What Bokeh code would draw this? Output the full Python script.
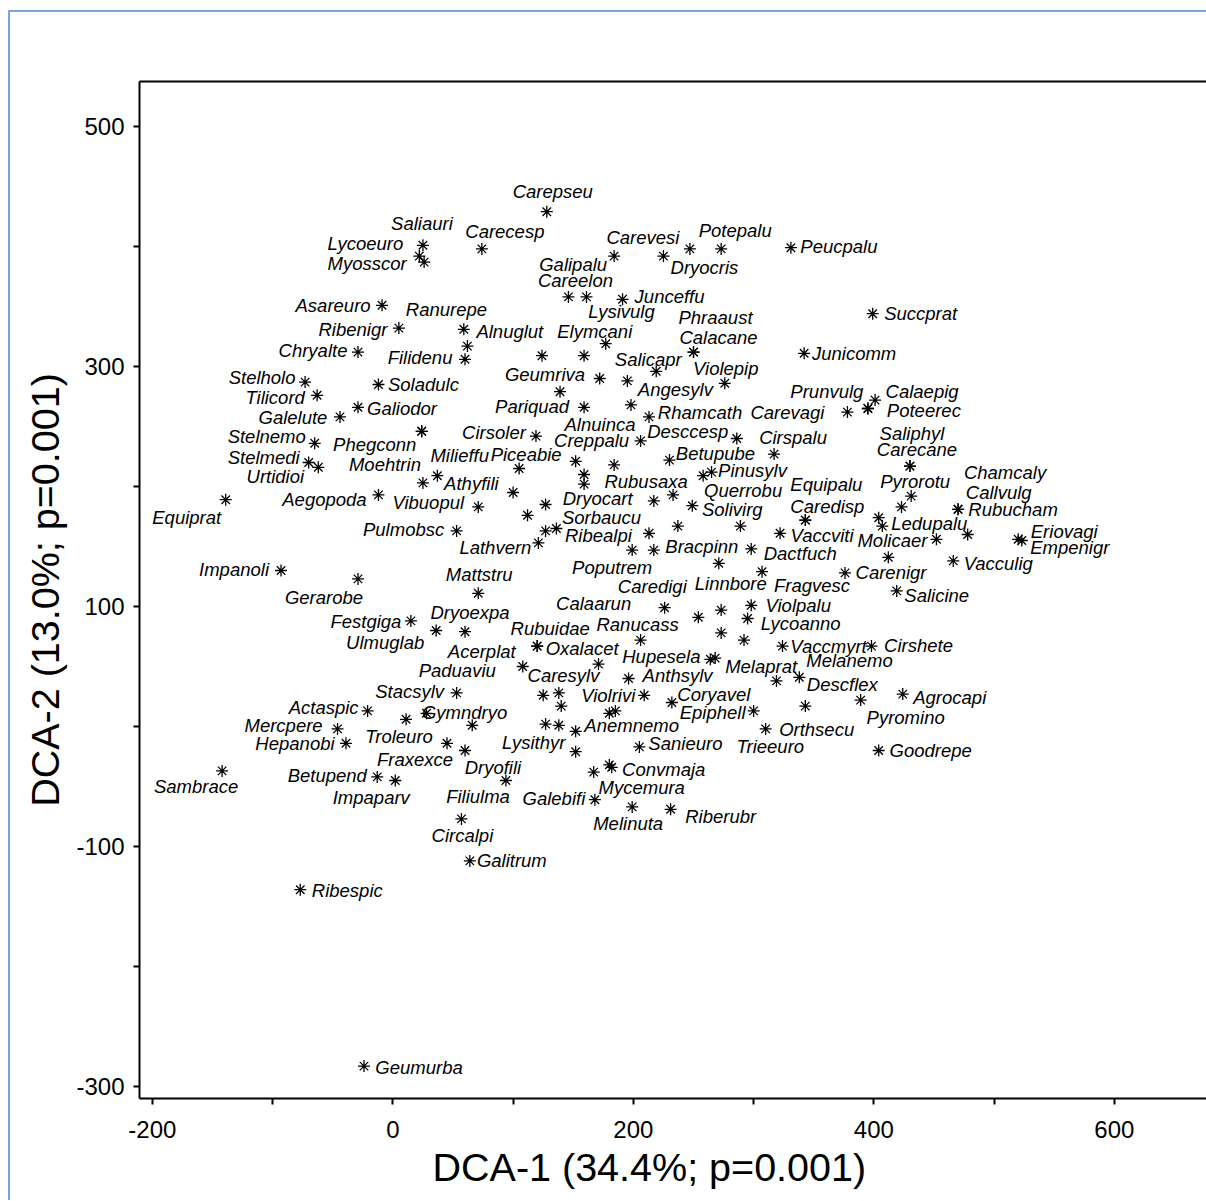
from bokeh.plotting import figure
from bokeh.models import ColumnDataSource, FixedTicker, LinearAxis, Range1d, InlineStyleSheet, Title
from bokeh.embed import file_html
from bokeh.resources import INLINE
from bokeh.core.properties import value

# ---------------- data (species scores) ----------------
species = [
    "Carepseu", "Carecesp", "Saliauri", "Lycoeuro", "Myosscor", "Galipalu", "Carevesi", "Dryocris",
    "Potepalu", "Peucpalu", "Careelon", "Lysivulg", "Junceffu", "Succprat", "Asareuro", "Ranurepe",
    "Alnuglut", "Ribenigr", "Filidenu", "Chryalte", "Elymcani", "Phraaust", "Calacane", "Geumriva",
    "", "Salicapr", "Violepip", "Junicomm", "Stelholo", "Tilicord", "Soladulc", "Galiodor",
    "Galelute", "Stelnemo", "Phegconn", "Milieffu", "Stelmedi", "Urtidioi", "Moehtrin", "Athyfili",
    "Aegopoda", "Vibuopul", "Equiprat", "Pulmobsc", "Impanoli", "Gerarobe", "Cirsoler", "Pariquad",
    "Alnuinca", "Angesylv", "", "", "Rhamcath", "Carevagi", "Prunvulg", "Calaepig",
    "Poteerec", "Creppalu", "Desccesp", "Cirspalu", "Betupube", "Piceabie", "", "",
    "", "", "", "Pinusylv", "Querrobu", "Rubusaxa", "", "Solivirg",
    "Dryocart", "Sorbaucu", "", "Ribealpi", "Lathvern", "", "", "",
    "Poputrem", "Bracpinn", "Linnbore", "Dactfuch", "Vaccviti", "Caredisp", "Equipalu", "Fragvesc",
    "Carenigr", "Saliphyl", "Carecane", "Pyrorotu", "", "Chamcaly", "Callvulg", "Rubucham",
    "", "Ledupalu", "Molicaer", "Eriovagi", "Empenigr", "Vacculig", "", "Salicine",
    "Mattstru", "Festgiga", "Dryoexpa", "Ulmuglab", "Acerplat", "Paduaviu", "Stacsylv", "Actaspic",
    "Troleuro", "Gymndryo", "Mercpere", "Hepanobi", "Fraxexce", "Dryofili", "Filiulma", "Sambrace",
    "Betupend", "Impaparv", "Circalpi", "Galitrum", "Ribespic", "Geumurba", "Caredigi", "Calaarun",
    "", "Violpalu", "Lycoanno", "", "", "Vaccmyrt", "Ranucass", "Rubuidae",
    "Oxalacet", "Cirshete", "Hupesela", "Melaprat", "Caresylv", "Anthsylv", "Melanemo", "Descflex",
    "", "", "", "Violrivi", "Coryavel", "Epiphell", "", "",
    "Trieeuro", "Pyromino", "Agrocapi", "", "", "Anemnemo", "Orthsecu", "Goodrepe",
    "Lysithyr", "Sanieuro", "", "Convmaja", "Mycemura", "Galebifi", "Melinuta", "Riberubr",
]
dca1 = [
    128, 74, 25, 22, 26, 184, 247, 225,
    273, 331, 146, 161, 191, 399, -9, 62,
    59, 5, 60, -29, 177, 250, 250, 124,
    159, 219, 276, 342, -73, -63, -12, -29,
    -44, -65, 24, 24, -70, -62, 25, 37,
    -12, 71, -139, 53, -93, -29, 119, 159,
    198, 195, 172, 139, 213, 378, 395, 401,
    395, 206, 286, 317, 230, 105, 152, 184,
    159, 159, 100, 265, 258, 233, 217, 249,
    127, 112, 127, 136, 121, 213, 237, 289,
    199, 217, 271, 298, 322, 343, 343, 307,
    376, 430, 430, 431, 423, 470, 478, 470,
    404, 407, 452, 520, 523, 466, 412, 419,
    71, 15, 60, 36, 108, 66, 53, -21,
    11, 28, -46, -39, 45, 94, 60, -142,
    -13, 2, 57, 64, -77, -24, 254, 226,
    273, 298, 295, 273, 292, 324, 206, 120,
    120, 398, 264, 268, 171, 196, 319, 338,
    125, 138, 140, 209, 232, 300, 180, 185,
    343, 389, 424, 127, 138, 152, 310, 404,
    152, 205, 180, 182, 167, 168, 199, 231,
]
dca2 = [
    429, 398, 401, 392, 387, 392, 398, 392,
    398, 399, 358, 358, 356, 344, 351, 317,
    331, 332, 306, 312, 319, 312, 312, 309,
    309, 296, 286, 311, 287, 276, 285, 266,
    258, 236, 246, 246, 220, 216, 203, 209,
    193, 183, 189, 163, 130, 123, 242, 266,
    268, 288, 290, 279, 258, 262, 265, 272,
    265, 238, 240, 227, 222, 215, 221, 218,
    210, 202, 195, 212, 209, 193, 188, 184,
    185, 176, 163, 165, 153, 161, 167, 167,
    147, 147, 136, 148, 161, 172, 172, 129,
    128, 217, 217, 192, 183, 181, 160, 181,
    174, 167, 156, 156, 155, 138, 141, 113,
    111, 88, 79, 80, 50, 1, 28, 13,
    6, 11, -2, -14, -14, -45, -20, -37,
    -42, -45, -77, -112, -136, -283, 91, 99,
    97, 101, 90, 78, 72, 67, 72, 67,
    67, 67, 56, 57, 52, 40, 38, 41,
    26, 28, 17, 26, 20, 13, 11, 13,
    17, 22, 27, 2, 1, -4, -2, -20,
    -21, -17, -32, -34, -38, -61, -67, -69,
]

x_ticks = [-200, -100, 0, 100, 200, 300, 400, 500, 600]
x_tick_labels = ["-200", "", "0", "", "200", "", "400", "", "600"]
y_ticks = [-300, -200, -100, 0, 100, 200, 300, 400, 500]
y_tick_labels = ["-300", "", "-100", "", "100", "", "300", "", "500"]

x_title = "DCA-1 (34.4%; p=0.001)"
y_title = "DCA-2 (13.0%; p=0.001)"

# ---------------- label placement (screen pixels relative to the point) ----------------
label_offset = {
    "Carepseu": (6, -20), "Carecesp": (23, -17), "Saliauri": (-1, -22), "Lycoeuro": (-54, -13),
    "Myosscor": (-57, 1), "Galipalu": (-41, 8), "Carevesi": (-47, -11), "Dryocris": (41, 11),
    "Potepalu": (14, -18), "Peucpalu": (48, -1), "Careelon": (7, -16), "Lysivulg": (35, 15),
    "Junceffu": (47, -3), "Succprat": (48, 0), "Asareuro": (-49, 0), "Ranurepe": (-21, -37),
    "Alnuglut": (46, 2), "Ribenigr": (-46, 1), "Filidenu": (-45, -2), "Chryalte": (-45, -2),
    "Elymcani": (-11, -12), "Phraaust": (22, -35), "Calacane": (25, -15), "Geumriva": (3, 19),
    "Salicapr": (-8, -12), "Violepip": (1, -15), "Junicomm": (50, 0), "Stelholo": (-43, -5),
    "Tilicord": (-42, 2), "Soladulc": (45, 0), "Galiodor": (44, 1), "Galelute": (-47, 1),
    "Stelnemo": (-48, -7), "Phegconn": (-47, 13), "Milieffu": (38, 24), "Stelmedi": (-45, -5),
    "Urtidioi": (-43, 9), "Moehtrin": (-38, -18), "Athyfili": (34, 8), "Aegopoda": (-54, 5),
    "Vibuopul": (-50, -4), "Equiprat": (-39, 18), "Pulmobsc": (-53, -1), "Impanoli": (-47, -1),
    "Gerarobe": (-34, 19), "Cirsoler": (-42, -4), "Pariquad": (-52, -1), "Alnuinca": (-31, 20),
    "Angesylv": (48, 9), "Rhamcath": (51, -4), "Carevagi": (-60, 0), "Prunvulg": (-41, -17),
    "Calaepig": (47, -9), "Poteerec": (56, 2), "Creppalu": (-49, 0), "Desccesp": (-49, -7),
    "Cirspalu": (19, -17), "Betupube": (46, -7), "Piceabie": (7, -14), "Pinusylv": (41, -2),
    "Querrobu": (40, 15), "Rubusaxa": (-27, -13), "Solivirg": (40, 4), "Dryocart": (52, -6),
    "Sorbaucu": (74, 2), "Ribealpi": (42, 7), "Lathvern": (-43, 5), "Poputrem": (-20, 17),
    "Bracpinn": (48, -4), "Linnbore": (12, 20), "Dactfuch": (49, 5), "Vaccviti": (42, 2),
    "Caredisp": (22, -14), "Equipalu": (21, -36), "Fragvesc": (50, 14), "Carenigr": (46, 0),
    "Saliphyl": (2, -33), "Carecane": (7, -17), "Pyrorotu": (4, -15), "Chamcaly": (47, -37),
    "Callvulg": (31, -42), "Rubucham": (55, 0), "Ledupalu": (47, -3), "Molicaer": (-44, 1),
    "Eriovagi": (46, -8), "Empenigr": (48, 7), "Vacculig": (45, 3), "Salicine": (40, 5),
    "Mattstru": (1, -19), "Festgiga": (-45, 1), "Dryoexpa": (5, -19), "Ulmuglab": (-51, 12),
    "Acerplat": (-41, -15), "Paduaviu": (-15, -55), "Stacsylv": (-47, -1), "Actaspic": (-44, -3),
    "Troleuro": (-7, 17), "Gymndryo": (38, -1), "Mercpere": (-54, -3), "Hepanobi": (-51, 0),
    "Fraxexce": (-32, 16), "Dryofili": (-13, -13), "Filiulma": (13, 46), "Sambrace": (-26, 16),
    "Betupend": (-50, -1), "Impaparv": (-24, 17), "Circalpi": (1, 17), "Galitrum": (42, 0),
    "Ribespic": (47, 1), "Geumurba": (55, 1), "Caredigi": (-46, -31), "Calaarun": (-71, -4),
    "Violpalu": (47, 0), "Lycoanno": (53, 5), "Vaccmyrt": (46, 0), "Ranucass": (-3, -16),
    "Rubuidae": (13, -18), "Oxalacet": (45, 2), "Cirshete": (47, -1), "Hupesela": (-49, -3),
    "Melaprat": (46, 8), "Caresylv": (-35, 11), "Anthsylv": (49, -3), "Melanemo": (73, -20),
    "Descflex": (43, 7), "Violrivi": (-36, 0), "Coryavel": (42, -8), "Epiphell": (-41, 2),
    "Trieeuro": (-35, 40), "Pyromino": (45, 17), "Agrocapi": (47, 3), "Anemnemo": (56, -6),
    "Orthsecu": (51, 1), "Goodrepe": (52, 0), "Lysithyr": (-42, -9), "Sanieuro": (46, -3),
    "Convmaja": (52, 2), "Mycemura": (48, 15), "Galebifi": (-41, -1), "Melinuta": (-4, 17),
    "Riberubr": (50, 7),
}

FONT = "Liberation Sans"

p = figure(
    width=1206, height=1200,
    x_range=Range1d(-210.7, 676.6), y_range=Range1d(-310, 537.5),
    output_backend="svg", toolbar_location=None,
    x_axis_location=None, y_axis_location=None,
    min_border_left=139, min_border_right=0, min_border_top=81, min_border_bottom=102,
    background_fill_color="white", border_fill_color="white",
)
p.outline_line_color = None
p.grid.visible = False
# light blue window frame on the left and top edge of the page
p.stylesheets = [InlineStyleSheet(css=(
    ":host::after { content: ''; position: absolute; left: 8px; top: 10px; right: 0; bottom: 0;"
    " border-left: 2px solid #7aa3d8; border-top: 2px solid #7aa3d8; pointer-events: none; z-index: 10; }"
))]


def style_axis(ax):
    ax.axis_line_color = "black"
    ax.axis_line_width = 2
    ax.major_tick_line_color = "black"
    ax.major_tick_line_width = 2
    ax.major_tick_in = 0
    ax.major_tick_out = 6
    ax.minor_tick_line_color = None
    ax.major_label_text_font = FONT
    ax.major_label_text_font_size = "24px"
    ax.major_label_text_color = "black"
    ax.axis_label_text_font = FONT
    ax.axis_label_text_font_size = "39.5px"
    ax.axis_label_text_font_style = "normal"
    ax.axis_label_text_color = "black"


xaxis = LinearAxis(ticker=FixedTicker(ticks=x_ticks),
                   major_label_overrides=dict(zip(x_ticks, x_tick_labels)))
style_axis(xaxis)
xaxis.major_label_standoff = 16
p.add_layout(xaxis, "below")

# x title as a below-panel title, placed left of the frame centre as in the picture
p.add_layout(Title(text=x_title, align="left", offset=293, standoff=5,
                   text_font=FONT, text_font_size="39.5px", text_font_style="normal",
                   text_color="black"), "below")

yaxis = LinearAxis(ticker=FixedTicker(ticks=y_ticks),
                   major_label_overrides=dict(zip(y_ticks, y_tick_labels)),
                   axis_label=y_title)
style_axis(yaxis)
yaxis.major_label_standoff = 9
yaxis.major_label_orientation = "horizontal"
yaxis.axis_label_standoff = 6
p.add_layout(yaxis, "left")

top = LinearAxis(ticker=FixedTicker(ticks=[]))
top.axis_line_color = "black"
top.axis_line_width = 2
top.major_tick_line_color = None
top.minor_tick_line_color = None
top.major_label_text_font_size = "0px"
p.add_layout(top, "above")

pts = ColumnDataSource(dict(x=dca1, y=dca2))
p.scatter("x", "y", source=pts, marker="asterisk", size=12,
          line_color="black", line_width=1.3)

lx, ly, lt, dx, dy = [], [], [], [], []
for name, xv, yv in zip(species, dca1, dca2):
    if name and name in label_offset:
        ox, oy = label_offset[name]
        lx.append(xv); ly.append(yv); lt.append(name); dx.append(ox); dy.append(oy)

labs = ColumnDataSource(dict(x=lx, y=ly, t=lt, dx=dx, dy=dy))
p.text("x", "y", text="t", source=labs, x_offset="dx", y_offset="dy",
       text_font=value(FONT), text_font_style="italic", text_font_size="18.5px",
       text_align="center", text_baseline="middle", text_color="black")

open("out.html", "w").write(file_html(p, INLINE))
